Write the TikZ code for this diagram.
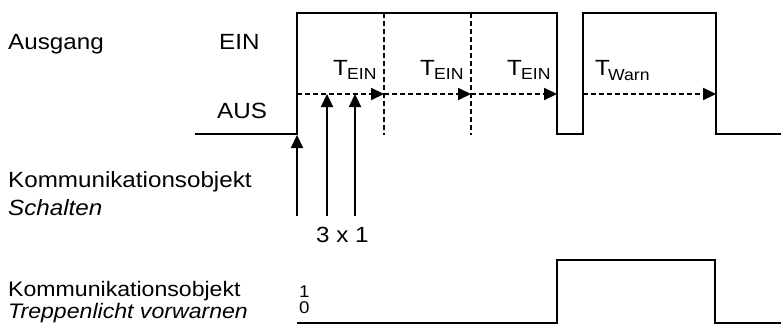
\documentclass[tikz,border=0pt]{standalone}
\usepackage{fontspec}
\setmainfont[FakeStretch=1.1]{Liberation Sans}
\usetikzlibrary{arrows.meta}
\begin{document}
\begin{tikzpicture}[x=1pt,y=-1pt,
  sig/.style={line width=2.2pt,line join=miter},
  dsh/.style={line width=2pt,dash pattern=on 5pt off 3pt},
  tip/.style={-{Triangle[length=13pt,width=12pt]}},
  lbl/.style={anchor=base west,inner sep=0pt,font=\fontsize{22}{24}\selectfont},
  lblb/.style={anchor=base west,inner sep=0pt,font=\fontsize{21}{23}\selectfont},
  sub/.style={anchor=base west,inner sep=0pt,font=\fontsize{16}{18}\selectfont},
  digit/.style={anchor=base west,inner sep=0pt,font=\fontsize{17}{19}\selectfont}]
\useasboundingbox (0,0) rectangle (781,329);
% labels
\node[lbl] (ausgang) at (8,49) {Ausgang};
\node[lbl] (ein) at (219,49) {EIN};
\node[lbl] (aus) at (217,118) {AUS};
\node[lbl] (ko1) at (8,187) {Kommunikationsobjekt};
\node[lbl] (sch) at (8,215) {\itshape Schalten};
\node[lbl] (three) at (316,242) {3 x 1};
\node[lblb] (ko2) at (8,296) {Kommunikationsobjekt};
\node[lblb] (trep) at (8,318) {\itshape Treppenlicht vorwarnen};
\node[digit] (one) at (299,297) {1};
\node[digit] (zero) at (299,313) {0};
% T labels
\node[lbl] (t1) at (333,75) {T};
\node[sub] (t1s) at (347,79) {EIN};
\node[lbl] (t2) at (420,75) {T};
\node[sub] (t2s) at (434,79) {EIN};
\node[lbl] (t3) at (507,75) {T};
\node[sub] (t3s) at (521,79) {EIN};
\node[lbl] (t4) at (595,75) {T};
\node[sub] (t4s) at (608,81) {Warn};
% coordinates
\coordinate (d0) at (297,94);
\coordinate (d1) at (384,94);
\coordinate (d2) at (471,94);
\coordinate (d3) at (557,94);
\coordinate (w0) at (583,94);
\coordinate (w1) at (716,94);
% output signal
\draw[sig] (195,134) -- (297,134) -- (297,13) -- (557,13) -- (557,134) -- (583,134) -- (583,13) -- (716,13) -- (716,134) -- (781,134);
% vertical dashed
\draw[dsh] (384,13) -- (384,135);
\draw[dsh] (471,13) -- (471,135);
% dashed arrows
\draw[dsh,tip] (d0) -- (d1);
\draw[dsh,tip] (d1) -- (d2);
\draw[dsh,tip] (d2) -- (d3);
\draw[dsh,tip] (w0) -- (w1);
% up arrows
\draw[line width=2.2pt,tip] (297,216) -- (297,135);
\draw[line width=2.2pt,tip] (327,216) -- (327,94);
\draw[line width=2.2pt,tip] (355,216) -- (355,94);
% bottom signal
\draw[sig] (297,323) -- (557,323) -- (557,260) -- (715,260) -- (715,323) -- (781,323);
\end{tikzpicture}
\end{document}
